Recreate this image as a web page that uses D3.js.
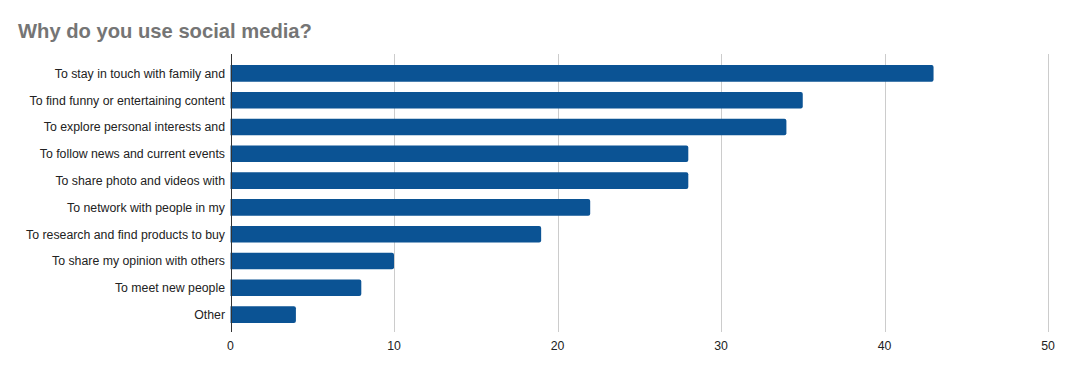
<!DOCTYPE html>
<html>
<head>
<meta charset="utf-8">
<script src="https://cdn.jsdelivr.net/npm/d3@7/dist/d3.min.js"></script>
<style>
  html, body { margin: 0; padding: 0; background: #fff; }
  svg { display: block; }
  text { font-family: "Liberation Sans", Arial, sans-serif; }
</style>
</head>
<body>
<svg id="chart" width="1067" height="371"></svg>
<script>
const title = "Why do you use social media?";
const categories = [
  "To stay in touch with family and",
  "To find funny or entertaining content",
  "To explore personal interests and",
  "To follow news and current events",
  "To share photo and videos with",
  "To network with people in my",
  "To research and find products to buy",
  "To share my opinion with others",
  "To meet new people",
  "Other"
];
const values = [43, 35, 34, 28, 28, 22, 19, 10, 8, 4];
const xTicks = [0, 10, 20, 30, 40, 50];

const svg = d3.select("#chart");
const W = 1067, H = 371;
svg.append("rect").attr("width", W).attr("height", H).attr("fill", "#fff");

const x = d3.scaleLinear().domain([0, 50]).range([230.5, 1048]);
const y = d3.scaleBand().domain(categories).range([60, 328])
  .paddingInner(0.38).paddingOuter(0.19);

const gridTop = 54, gridBottom = 332;

svg.append("text")
  .attr("x", 18).attr("y", 38)
  .attr("font-size", 20.2).attr("font-weight", "bold")
  .attr("fill", "#757575")
  .text(title);

// gridlines
svg.append("g").selectAll("line").data(xTicks.filter(d => d > 0)).join("line")
  .attr("x1", d => Math.round(x(d)) + 0.5).attr("x2", d => Math.round(x(d)) + 0.5)
  .attr("y1", gridTop).attr("y2", gridBottom)
  .attr("stroke", "#cccccc").attr("stroke-width", 1);

// bars with slightly rounded right end
const r = 2;
svg.append("g").selectAll("path").data(values).join("path")
  .attr("fill", "#0b5394")
  .attr("d", (d, i) => {
    const x0 = x(0), x1 = x(d), y0 = y(categories[i]), h = y.bandwidth();
    return `M${x0},${y0} H${x1 - r} Q${x1},${y0} ${x1},${y0 + r} V${y0 + h - r} Q${x1},${y0 + h} ${x1 - r},${y0 + h} H${x0} Z`;
  });

// axis line
svg.append("line")
  .attr("x1", Math.round(x(0)) + 0.5).attr("x2", Math.round(x(0)) + 0.5)
  .attr("y1", gridTop).attr("y2", gridBottom)
  .attr("stroke", "#333").attr("stroke-width", 1);

// category labels
svg.append("g").selectAll("text").data(categories).join("text")
  .attr("x", 225)
  .attr("y", d => y(d) + y.bandwidth() / 2)
  .attr("dy", "0.35em")
  .attr("text-anchor", "end")
  .attr("font-size", 12.3)
  .attr("fill", "#222")
  .text(d => d);

// x tick labels
svg.append("g").selectAll("text").data(xTicks).join("text")
  .attr("x", d => x(d))
  .attr("y", 350)
  .attr("text-anchor", "middle")
  .attr("font-size", 12.3)
  .attr("fill", "#222")
  .text(d => d);
</script>
</body>
</html>
